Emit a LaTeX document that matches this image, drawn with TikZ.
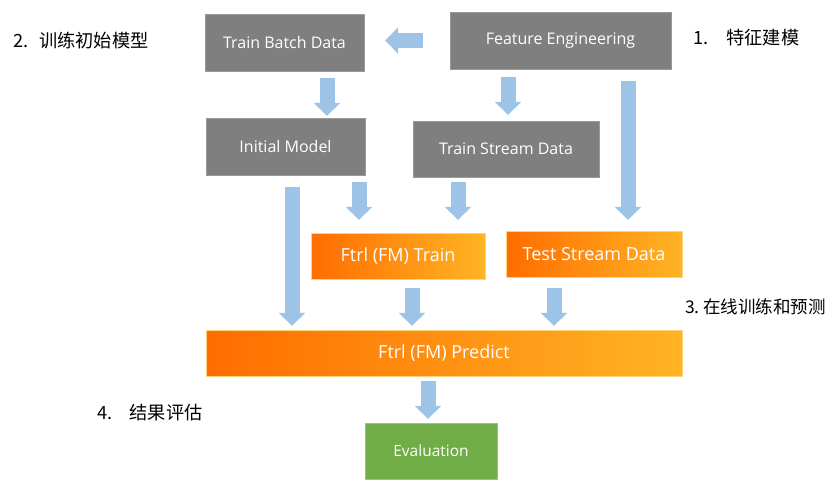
\documentclass[tikz,border=0pt]{standalone}
\usepackage{fontspec}
\setmainfont{Open Sans}
\newfontfamily\cjk{Noto Sans CJK SC}
\usepackage{tikz}
\usetikzlibrary{arrows.meta,positioning}
\definecolor{BoxGray}{HTML}{7F7F7F}
\definecolor{BoxGreen}{HTML}{70AD47}
\definecolor{OrangeDark}{HTML}{FF6D00}
\definecolor{OrangeLight}{HTML}{FFB424}
\definecolor{ArrowBlue}{HTML}{9DC3E6}
\tikzset{
  graybox/.style={
    fill=BoxGray,
    draw=BoxGray!80!white,
    text=white,
    inner sep=0pt,
    font=\fontsize{16}{19}\selectfont
  },
  orangebox/.style={
    left color=OrangeDark,
    right color=OrangeLight,
    draw=OrangeLight!60!white,
    text=white,
    inner sep=0pt,
    font=\fontsize{18}{21}\selectfont
  },
  greenbox/.style={
    fill=BoxGreen,
    draw=BoxGreen!70!white,
    text=white,
    inner sep=0pt,
    font=\fontsize{15.5}{18}\selectfont
  },
  steplabel/.style={
    anchor=west,
    inner sep=0pt,
    font=\cjk\fontsize{18.2}{21}\selectfont
  },
  blockarrow/.style={
    -{Triangle[width=26pt,length=13pt]},
    line width=15pt,
    draw=ArrowBlue
  }
}

\begin{document}
\begin{tikzpicture}[x=1pt,y=-1pt]
\useasboundingbox (0,0) rectangle (838,485);
% boxes
\node[graybox, minimum width=159pt, minimum height=57pt] (batch) at (284.5,42.5) {Train Batch Data};
\node[graybox, minimum width=221pt, minimum height=57pt] (feature) at (560.5,40.5) {Feature Engineering};
\node[graybox, minimum width=159pt, minimum height=57pt] (initial) at (285.5,146.5) {Initial Model};
\node[graybox, minimum width=186pt, minimum height=56pt] (trainstream) at (506,149) {Train Stream Data};
\node[orangebox, minimum width=174pt, minimum height=46pt] (ftrltrain) at (398,256) {Ftrl (FM) Train};
\node[orangebox, minimum width=176pt, minimum height=46pt] (teststream) at (594,254) {Test Stream Data};
\node[orangebox, minimum width=476pt, minimum height=46pt] (predict) at (444,353) {Ftrl (FM) Predict};
\node[greenbox, minimum width=132pt, minimum height=56pt] (evaluation) at (431,451) {Evaluation};

% step labels
\node[steplabel] (step1) at (693,38) {1.\hspace{1em}特征建模};
\node[steplabel] (step2) at (13,41) {2.\hspace{0.6em}训练初始模型};
\node[steplabel, font=\cjk\fontsize{17.5}{20}\selectfont] (step3) at (685,307) {3.\hspace{0.2em}在线训练和预测};
\node[steplabel] (step4) at (97,413) {4.\hspace{0.95em}结果评估};

% arrows
\draw[blockarrow, shorten <=27pt, shorten >=21pt] (feature.west) -- (feature.west -| batch.east);
\draw[blockarrow, shorten <=7pt, shorten >=2pt] ([xshift=42.5pt]batch.south) -- ([xshift=42.5pt]batch.south |- initial.north);
\draw[blockarrow, shorten <=8pt, shorten >=6pt] ([xshift=-52.5pt]feature.south) -- ([xshift=-52.5pt]feature.south |- trainstream.north);
\draw[blockarrow, shorten <=12pt, shorten >=11pt] ([xshift=67.5pt]feature.south) -- ([xshift=67.5pt]feature.south |- teststream.north);
\draw[blockarrow, shorten <=12pt, shorten >=4pt] ([xshift=6.5pt]initial.south) -- ([xshift=6.5pt]initial.south |- predict.north);
\draw[blockarrow, shorten <=7pt, shorten >=13pt] ([xshift=73.5pt]initial.south) -- ([xshift=73.5pt]initial.south |- ftrltrain.north);
\draw[blockarrow, shorten <=5pt, shorten >=13pt] ([xshift=-48pt]trainstream.south) -- ([xshift=-48pt]trainstream.south |- ftrltrain.north);
\draw[blockarrow, shorten <=9pt, shorten >=4pt] ([xshift=14pt]ftrltrain.south) -- ([xshift=14pt]ftrltrain.south |- predict.north);
\draw[blockarrow, shorten <=11pt, shorten >=4pt] ([xshift=-40pt]teststream.south) -- ([xshift=-40pt]teststream.south |- predict.north);
\draw[blockarrow, shorten <=5pt, shorten >=4pt] ([xshift=-16pt]predict.south) -- ([xshift=-16pt]predict.south |- evaluation.north);
\end{tikzpicture}
\end{document}
